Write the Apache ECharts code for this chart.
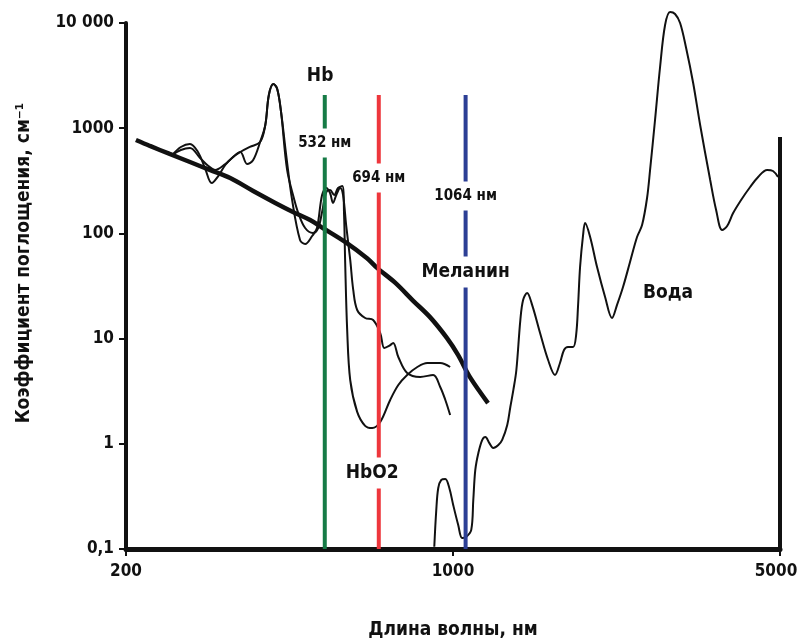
<!DOCTYPE html>
<html>
<head>
<meta charset="utf-8">
<script src="https://cdn.jsdelivr.net/npm/echarts@6/dist/echarts.min.js"></script>
<style>
html, body { margin: 0; padding: 0; background: #fff; }
#chart { width: 798px; height: 641px; }
</style>
</head>
<body>
<div id="chart"></div>
<script>
const FONT = "'DejaVu Sans Condensed', 'Liberation Sans Narrow', sans-serif";

// axis ticks
const xTicks = [200, 1000, 5000];
const yTickLabels = ['0,1', '1', '10', '100', '1000', '10 000'];

// Меланин
const melaninX = [210, 225, 248, 274, 302, 334, 374, 417, 455, 495, 528, 588, 655, 688, 752, 821, 893, 971, 1025, 1087, 1188];
const melaninY = [773, 678, 569, 477, 401, 336, 253, 195, 160, 134, 112, 83, 58, 47, 34, 23, 16, 10.1, 7.0, 4.3, 2.44];

// Hb
const hbX = [251, 262, 274, 285, 295, 305, 315, 326, 337, 351, 368, 387, 397, 404, 413, 421, 429, 440, 453, 471, 483, 500, 512, 525, 536, 546, 554, 563, 574, 582, 591, 603, 612, 624, 649, 675, 699, 713, 730, 745, 764, 798, 851, 907, 939, 963, 986];
const hbY = [556, 663, 708, 594, 418, 301, 351, 447, 521, 594, 663, 739, 1073, 2068, 2632, 2358, 1426, 556, 208, 86.6, 79.3, 94.5, 112.5, 232, 270, 242, 194.5, 232, 270, 232, 120, 55.9, 29.0, 18.7, 15.7, 15.0, 11.3, 8.14, 8.51, 9.08, 6.69, 4.71, 4.32, 4.51, 3.47, 2.61, 1.88];

// HbO2
const hbo2X = [251, 262, 274, 288, 300, 310, 326, 337, 351, 363, 374, 387, 397, 404, 413, 421, 429, 442, 458, 467, 483, 502, 515, 525, 536, 546, 557, 568, 580, 585, 588, 594, 603, 624, 649, 672, 699, 734, 764, 798, 839, 881, 939, 986];
const hbo2Y = [556, 621, 648, 521, 437, 401, 457, 521, 594, 457, 498, 739, 1073, 2068, 2632, 2358, 1426, 401, 208, 156, 112.5, 101, 112.5, 160, 247, 258, 232, 270, 282, 150, 55.9, 12.1, 4.04, 2.01, 1.48, 1.41, 1.61, 2.61, 3.62, 4.51, 5.37, 5.86, 5.86, 5.37];

// Вода
const waterX = [912, 921, 930, 944, 963, 982, 1001, 1026, 1046, 1067, 1094, 1105, 1116, 1133, 1155, 1173, 1195, 1219, 1250, 1274, 1306, 1326, 1346, 1366, 1393, 1412, 1440, 1476, 1535, 1597, 1652, 1693, 1727, 1761, 1806, 1833, 1851, 1869, 1897, 1916, 1964, 2032, 2114, 2187, 2242, 2309, 2390, 2474, 2536, 2599, 2638, 2703, 2771, 2840, 2911, 2983, 3058, 3150, 3261, 3375, 3546, 3651, 3761, 3855, 3970, 4129, 4317, 4490, 4693, 4830, 4951];
const waterY = [0.105, 0.235, 0.38, 0.453, 0.463, 0.38, 0.262, 0.169, 0.127, 0.13, 0.152, 0.292, 0.564, 0.818, 1.09, 1.16, 1.02, 0.912, 0.974, 1.09, 1.51, 2.24, 3.25, 5.03, 15.0, 23.3, 27.1, 20.9, 11.3, 6.26, 4.51, 5.86, 7.79, 8.32, 8.32, 10.8, 20.9, 47.9, 96.6, 125.6, 92.4, 47.9, 24.9, 15.7, 20.9, 30.9, 53.5, 92.4, 120, 217, 401, 1196, 3817, 9573, 12725, 12180, 10000, 5787, 2690, 1073, 322, 167, 107.7, 117.6, 156, 207.7, 276, 344, 401, 392, 344];

// right border line of the water spectrum
const edgeX = [5000, 5000];
const edgeY = [825, 0.1];

// lasers
const laserWl = [532, 694, 1064];
const laserTop = 2070;
const laserNames = ['532 нм', '694 нм', '1064 нм'];
const laserLabelY = [723, 336, 227];
const laserColors = ['#167b46', '#ee363c', '#2c3f95'];

// curve names
const curveNames = ['Hb', 'HbO2', 'Меланин', 'Вода'];
const curveNameX = [520, 672, 1064, 2882];
const curveNameY = [3135, 0.528, 43, 27.1];

const zip = (xs, ys) => xs.map((x, i) => [x, ys[i]]);

const chart = echarts.init(document.getElementById('chart'));

const curve = (name, xs, ys, width) => ({
  name: name,
  type: 'line',
  data: zip(xs, ys),
  smooth: 0.35,
  symbol: 'none',
  clip: false,
  silent: true,
  lineStyle: { color: '#111', width: width }
});

const series = [
  curve('Hb', hbX, hbY, 2),
  curve('HbO2', hbo2X, hbo2Y, 2),
  curve('Вода', waterX, waterY, 2),
  curve('Меланин', melaninX, melaninY, 4.5),
  {
    type: 'line',
    data: zip(edgeX, edgeY),
    symbol: 'none',
    clip: false,
    lineStyle: { color: '#111', width: 4 }
  }
];

laserWl.forEach((wl, i) => {
  series.push({
    type: 'line',
    data: [[wl, laserTop], [wl, 0.1]],
    symbol: 'none',
    clip: false,
    z: 3,
    lineStyle: { color: laserColors[i], width: 4 },
    markPoint: {
      symbol: 'rect',
      symbolSize: 0,
      data: [{ name: laserNames[i], coord: [wl, laserLabelY[i]] }],
      label: {
        show: true,
        position: 'inside',
        formatter: '{b}',
        color: '#111',
        fontSize: 15,
        fontWeight: 'bold',
        fontFamily: FONT,
        backgroundColor: '#fff',
        padding: [7, 3]
      }
    }
  });
});

// curve names; Меланин also sits on the blue line
series.push({
  type: 'scatter',
  symbolSize: 0,
  z: 4,
  itemStyle: { opacity: 1 },
  data: curveNames.map((n, i) => ({ name: n, value: [curveNameX[i], curveNameY[i]] })),
  label: {
    show: true,
    position: 'inside',
    formatter: '{b}',
    color: '#111',
    opacity: 1,
    fontSize: 19,
    fontWeight: 'bold',
    fontFamily: FONT,
    backgroundColor: '#fff',
    padding: [6, 3]
  }
});

const tickFont = { color: '#111', fontSize: 17, fontWeight: 'bold', fontFamily: FONT };

chart.setOption({
  animation: false,
  grid: { left: 126, right: 18, top: 23, bottom: 92, outerBoundsMode: 'none' },
  xAxis: {
    type: 'log',
    logBase: 10,
    min: xTicks[0],
    max: xTicks[xTicks.length - 1],
    name: 'Длина волны, нм',
    nameLocation: 'middle',
    nameGap: 72,
    nameTextStyle: { color: '#111', fontSize: 19, fontWeight: 'bold', fontFamily: FONT },
    axisLine: { lineStyle: { color: '#111', width: 5 } },
    axisTick: { show: true, length: 7, lineStyle: { color: '#111', width: 2 } },
    axisLabel: Object.assign({
      margin: 14,
      formatter: v => Math.round(v) === xTicks[2] ? '{e|' + xTicks[2] + '}' : String(Math.round(v)),
      rich: { e: Object.assign({ padding: [0, 8, 0, 0] }, tickFont) }
    }, tickFont),
    splitLine: { show: false },
    minorTick: { show: false }
  },
  yAxis: {
    type: 'log',
    logBase: 10,
    min: 0.1,
    max: 10000,
    name: 'Коэффициент поглощения, см\u207B\u00B9',
    nameLocation: 'middle',
    nameGap: 92,
    nameTextStyle: { color: '#111', fontSize: 19, fontWeight: 'bold', fontFamily: FONT, padding: [0, 0, 0, 46] },
    axisLine: { show: true, lineStyle: { color: '#111', width: 4 } },
    axisTick: { show: true, length: 7, lineStyle: { color: '#111', width: 2 } },
    axisLabel: Object.assign({
      margin: 12,
      formatter: v => yTickLabels[Math.round(Math.log10(v)) + 1]
    }, tickFont),
    splitLine: { show: false }
  },
  series: series
});
</script>
</body>
</html>
